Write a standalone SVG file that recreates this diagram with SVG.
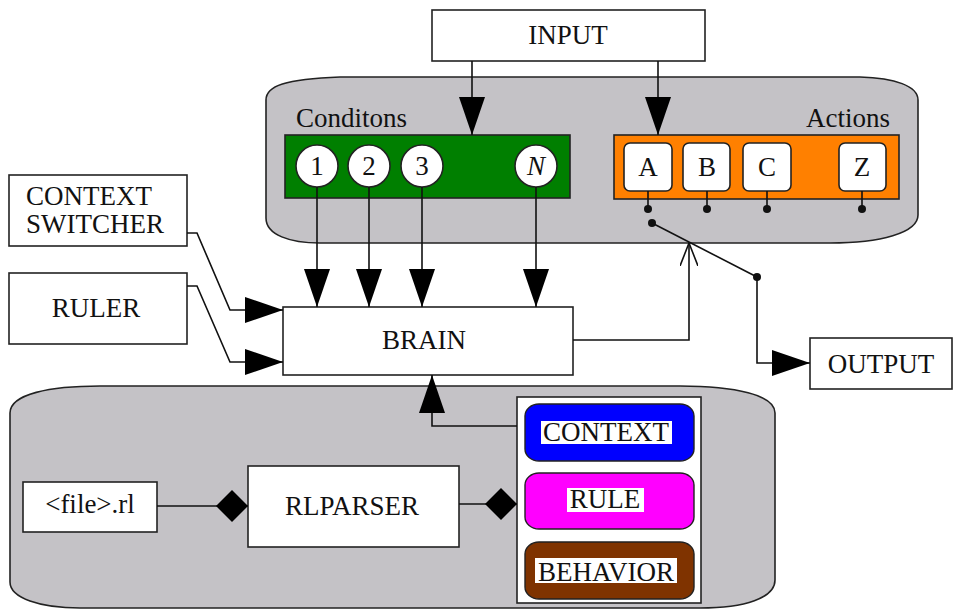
<svg xmlns="http://www.w3.org/2000/svg" width="954" height="610" viewBox="0 0 954 610">
<style>
text { font-family: "Liberation Serif", "DejaVu Serif", "Times New Roman", Times, serif; font-size: 27px; fill: #111; }
.box { fill: #fff; stroke: #222; stroke-width: 1.6; }
.panel { fill: #c4c2c6; stroke: #222; stroke-width: 1.6; }
.ln { fill: none; stroke: #111; stroke-width: 1.6; }
.mid { text-anchor: middle; }
.dot { fill: #111; }
</style>
<defs>
<marker id="tri" viewBox="0 0 38 26" refX="38" refY="13" markerWidth="38" markerHeight="26" markerUnits="userSpaceOnUse" orient="auto">
<path d="M0,0 L38,13 L0,26 z" fill="#000"/>
</marker>
<marker id="open" viewBox="0 0 24 18" refX="23" refY="9" markerWidth="24" markerHeight="18" markerUnits="userSpaceOnUse" orient="auto">
<path d="M0,0 L23,9 L0,18" fill="none" stroke="#111" stroke-width="1.6"/>
</marker>
<marker id="dia" viewBox="0 0 32 32" refX="32" refY="16" markerWidth="32" markerHeight="32" markerUnits="userSpaceOnUse" orient="auto">
<path d="M0,16 L16,0 L32,16 L16,32 z" fill="#000"/>
</marker>
</defs>

<g id="top-panel">
<path class="panel" d="M266,100 C266,86 285,79 340,77 L860,77 C895,78 918,86 918,100 L918,215 C918,233 880,243 830,243 L320,243 C290,243 266,235 266,218 Z"/>
</g>

<g id="bottom-panel">
<path class="panel" d="M10,413 C10,394 50,386 100,386 L680,386 C735,386 775,395 775,413 L775,580 C775,598 745,608 700,608 L80,608 C40,608 10,598 10,582 Z"/>
</g>

<g id="input" font-family="Liberation Serif, serif">
<rect class="box" x="432" y="10" width="273" height="51"/>
<text class="mid" x="568" y="44">INPUT</text>
</g>

<g id="conditions">
<text x="296" y="127">Conditons</text>
<rect x="285" y="135" width="285" height="63" fill="#007f00" stroke="#222" stroke-width="1.6"/>
<g id="cond-1"><circle class="box" cx="317" cy="166" r="21"/><text class="mid" x="317" y="175">1</text></g>
<g id="cond-2"><circle class="box" cx="369" cy="166" r="21"/><text class="mid" x="369" y="175">2</text></g>
<g id="cond-3"><circle class="box" cx="422" cy="166" r="21"/><text class="mid" x="422" y="175">3</text></g>
<g id="cond-n"><circle class="box" cx="536" cy="166" r="21"/><text class="mid" x="536" y="175" font-style="italic">N</text></g>
</g>

<g id="actions">
<text x="890" y="127" text-anchor="end">Actions</text>
<rect x="614" y="135" width="285" height="64" fill="#ff8000" stroke="#222" stroke-width="1.6"/>
<g id="act-a"><rect class="box" x="624" y="143" width="48" height="48" rx="6"/><text class="mid" x="648" y="176">A</text></g>
<g id="act-b"><rect class="box" x="683" y="143" width="47" height="48" rx="6"/><text class="mid" x="707" y="176">B</text></g>
<g id="act-c"><rect class="box" x="743" y="143" width="48" height="48" rx="6"/><text class="mid" x="767" y="176">C</text></g>
<g id="act-z"><rect class="box" x="839" y="143" width="47" height="48" rx="6"/><text class="mid" x="862" y="176">Z</text></g>
</g>

<g id="context-switcher">
<rect class="box" x="9" y="175" width="178" height="71"/>
<text x="26" y="205">CONTEXT</text>
<text x="26" y="233">SWITCHER</text>
</g>

<g id="ruler">
<rect class="box" x="9" y="273" width="178" height="71"/>
<text class="mid" x="96" y="317">RULER</text>
</g>

<g id="brain">
<rect class="box" x="283" y="307" width="290" height="68"/>
<text class="mid" x="424" y="349">BRAIN</text>
</g>

<g id="output">
<rect class="box" x="810" y="338" width="142" height="51"/>
<text class="mid" x="881" y="373">OUTPUT</text>
</g>

<g id="file">
<rect class="box" x="23" y="482" width="134" height="50"/>
<text class="mid" x="90" y="513">&lt;file&gt;.rl</text>
</g>

<g id="rlparser">
<rect class="box" x="248" y="466" width="211" height="81"/>
<text class="mid" x="352" y="515">RLPARSER</text>
</g>

<g id="store">
<rect class="box" x="517" y="397" width="184" height="206"/>
<g id="context">
<rect x="525" y="404" width="169" height="57" rx="14" ry="12" fill="#0000ff" stroke="#222" stroke-width="1.4"/>
<rect x="541" y="421" width="131" height="23" fill="#fff"/>
<text class="mid" x="606" y="441">CONTEXT</text>
</g>
<g id="rule">
<rect x="525" y="473" width="169" height="56" rx="14" ry="12" fill="#ff00ff" stroke="#222" stroke-width="1.4"/>
<rect x="567" y="488" width="77" height="24" fill="#fff"/>
<text class="mid" x="605" y="508">RULE</text>
</g>
<g id="behavior">
<rect x="525" y="542" width="169" height="57" rx="14" ry="12" fill="#7f3300" stroke="#222" stroke-width="1.4"/>
<rect x="535" y="558" width="142" height="25" fill="#fff"/>
<text class="mid" x="606" y="581">BEHAVIOR</text>
</g>
</g>

<g id="connectors">
<path class="ln" d="M472,61 L472,135" marker-end="url(#tri)"/>
<path class="ln" d="M658,61 L658,135" marker-end="url(#tri)"/>
<path class="ln" d="M317,187 L317,307" marker-end="url(#tri)"/>
<path class="ln" d="M369,187 L369,307" marker-end="url(#tri)"/>
<path class="ln" d="M422,187 L422,307" marker-end="url(#tri)"/>
<path class="ln" d="M536,187 L536,307" marker-end="url(#tri)"/>
<path class="ln" d="M187,233 L197,233 L230,310 L283,310" marker-end="url(#tri)"/>
<path class="ln" d="M187,286 L197,286 L230,362 L283,362" marker-end="url(#tri)"/>
<path class="ln" d="M573,340 L689,340 L689,243" marker-end="url(#open)"/>
<path class="ln" d="M648,191 L648,209 M707,191 L707,209 M767,191 L767,209 M862,191 L862,209"/>
<circle class="dot" cx="648" cy="209" r="4"/>
<circle class="dot" cx="707" cy="209" r="4"/>
<circle class="dot" cx="767" cy="209" r="4"/>
<circle class="dot" cx="862" cy="209" r="4"/>
<circle class="dot" cx="652" cy="223" r="4"/>
<circle class="dot" cx="757" cy="277" r="4"/>
<path class="ln" d="M652,223 L757,277"/>
<path class="ln" d="M757,277 L757,363 L810,363" marker-end="url(#tri)"/>
<path class="ln" d="M517,426 L432,426 L432,375" marker-end="url(#tri)"/>
<path class="ln" d="M157,506 L248,506" marker-end="url(#dia)"/>
<path class="ln" d="M459,504 L517,504" marker-end="url(#dia)"/>
</g>
</svg>
